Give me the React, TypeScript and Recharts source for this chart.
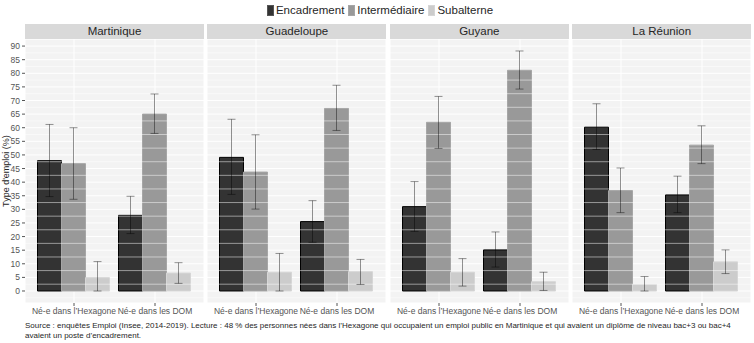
import { Bar, BarChart, CartesianGrid, ErrorBar, ReferenceLine, XAxis, YAxis } from 'recharts';

const FONT = '"Liberation Sans", Arial, Helvetica, sans-serif';

const regions = ['Martinique', 'Guadeloupe', 'Guyane', 'La Réunion'];
const births = ['Né-e dans l’Hexagone', 'Né-e dans les DOM'];

// one entry per (region, birth place): Martinique Hex, Martinique DOM, Guadeloupe Hex, ...
const encadrement = [47.9, 27.8, 49.1, 25.5, 31.0, 15.1, 60.2, 35.3];
const encadrementLow = [34.7, 21.1, 35.5, 17.9, 21.9, 8.8, 52.0, 28.8];
const encadrementHigh = [61.2, 34.8, 63.1, 33.2, 40.2, 21.7, 68.8, 42.2];

const intermediaire = [46.8, 65.0, 43.7, 67.1, 62.0, 81.1, 36.9, 53.6];
const intermediaireLow = [33.7, 57.9, 30.1, 59.0, 52.4, 74.2, 28.8, 46.8];
const intermediaireHigh = [60.0, 72.4, 57.4, 75.6, 71.5, 88.2, 45.2, 60.7];

const subalterne = [4.9, 6.6, 6.9, 7.1, 6.9, 3.4, 2.4, 10.7];
const subalterneLow = [0, 2.8, 0, 2.4, 1.8, 0.2, 0, 6.4];
const subalterneHigh = [10.8, 10.4, 13.8, 11.6, 11.9, 6.9, 5.3, 15.1];

const yTicks = [0, 5, 10, 15, 20, 25, 30, 35, 40, 45, 50, 55, 60, 65, 70, 75, 80, 85, 90];
const yMinorBreaks = [-2.5, 2.5, 7.5, 12.5, 17.5, 22.5, 27.5, 32.5, 37.5, 42.5, 47.5, 52.5, 57.5, 62.5, 67.5, 72.5, 77.5, 82.5, 87.5, 92.5];

const SERIES = [
  { key: 'enc', name: 'Encadrement', fill: '#333333', stroke: '#000000' },
  { key: 'int', name: 'Intermédiaire', fill: '#999999', stroke: '#a6a6a6' },
  { key: 'sub', name: 'Subalterne', fill: '#cccccc', stroke: '#d6d6d6' },
];

const PANEL_LEFT = 25;
const PANEL_W = 179;
const PANEL_STEP = 182.4;
const PLOT_TOP = 39;
const PLOT_H = 264;
const Y_AXIS_W = 25;
const AXIS_TEXT = { fontSize: 8.5, fill: '#555555', fontFamily: FONT };

function buildRows(regionIndex: number) {
  return births.map((birth, b) => {
    const i = regionIndex * 2 + b;
    return {
      birth,
      enc: encadrement[i],
      encErr: [encadrement[i] - encadrementLow[i], encadrementHigh[i] - encadrement[i]],
      int: intermediaire[i],
      intErr: [intermediaire[i] - intermediaireLow[i], intermediaireHigh[i] - intermediaire[i]],
      sub: subalterne[i],
      subErr: [subalterne[i] - subalterneLow[i], subalterneHigh[i] - subalterne[i]],
    };
  });
}

function Panel({ regionIndex }: { regionIndex: number }) {
  const showY = regionIndex === 0;
  const left = PANEL_LEFT + regionIndex * PANEL_STEP;
  return (
    <>
      <div
        style={{
          position: 'absolute',
          left,
          top: 24,
          width: PANEL_W,
          height: 15,
          background: '#d9d9d9',
          color: '#262626',
          fontSize: 11.5,
          lineHeight: '15px',
          textAlign: 'center',
        }}
      >
        {regions[regionIndex]}
      </div>
      <div style={{ position: 'absolute', left: showY ? left - Y_AXIS_W : left, top: PLOT_TOP }}>
        <BarChart
          width={showY ? PANEL_W + Y_AXIS_W : PANEL_W}
          height={PLOT_H + 22}
          data={buildRows(regionIndex)}
          margin={{ top: 0, right: 0, bottom: 0, left: 0 }}
          barGap={0}
          barCategoryGap={4}
        >
          <CartesianGrid fill="#f3f3f3" stroke="#ffffff" strokeWidth={1} />
          {yMinorBreaks.map((v) => (
            <ReferenceLine key={v} y={v} stroke="#ffffff" strokeWidth={0.5} />
          ))}
          <XAxis
            dataKey="birth"
            type="category"
            padding={{ left: 8.5, right: 8.5 }}
            axisLine={false}
            tickLine={{ stroke: '#555555' }}
            tickSize={3}
            interval={0}
            height={22}
            tick={AXIS_TEXT}
          />
          <YAxis
            hide={!showY}
            type="number"
            width={Y_AXIS_W}
            domain={[-4.41, 92.6]}
            allowDataOverflow
            ticks={yTicks}
            interval={0}
            axisLine={false}
            tickLine={{ stroke: '#555555' }}
            tickSize={3}
            tick={AXIS_TEXT}
          />
          {SERIES.map((s) => (
            <Bar
              key={s.key}
              dataKey={s.key}
              name={s.name}
              fill={s.fill}
              stroke={s.stroke}
              strokeWidth={1}
              isAnimationActive={false}
            >
              <ErrorBar dataKey={`${s.key}Err`} width={4} stroke="rgba(0,0,0,0.42)" strokeWidth={1} />
            </Bar>
          ))}
        </BarChart>
      </div>
    </>
  );
}

export default function App() {
  return (
    <div
      style={{
        position: 'absolute',
        left: 0,
        top: 0,
        width: 754,
        height: 343,
        background: '#ffffff',
        fontFamily: FONT,
        overflow: 'hidden',
      }}
    >
      <div
        style={{
          position: 'absolute',
          top: 4,
          left: 0,
          width: 754,
          display: 'flex',
          justifyContent: 'center',
          alignItems: 'center',
          gap: 4,
          fontSize: 11.5,
          color: '#262626',
          paddingLeft: 6,
          boxSizing: 'border-box',
        }}
      >
        {SERIES.map((s) => (
          <span key={s.key} style={{ display: 'flex', alignItems: 'center', gap: 2 }}>
            <span
              style={{
                display: 'inline-block',
                width: 7,
                height: 11,
                background: s.fill,
                border: `1px solid ${s.key === 'enc' ? '#555555' : s.stroke}`,
                boxSizing: 'border-box',
              }}
            />
            {s.name}
          </span>
        ))}
      </div>

      {regions.map((_, i) => (
        <Panel key={i} regionIndex={i} />
      ))}

      <div
        style={{
          position: 'absolute',
          left: 6 - 60,
          top: PLOT_TOP + PLOT_H / 2 - 6,
          width: 120,
          height: 12,
          textAlign: 'center',
          fontSize: 9,
          lineHeight: '12px',
          color: '#262626',
          transform: 'rotate(-90deg)',
        }}
      >
        Type d'emploi (%)
      </div>

      <div
        style={{
          position: 'absolute',
          left: 25,
          top: 321,
          fontSize: 8,
          lineHeight: '9.5px',
          color: '#262626',
          whiteSpace: 'nowrap',
        }}
      >
        Source : enquêtes Emploi (Insee, 2014-2019). Lecture : 48 % des personnes nées dans l’Hexagone qui occupaient un emploi public en Martinique et qui avaient un diplôme de niveau bac+3 ou bac+4
        <br />
        avaient un poste d’encadrement.
      </div>
    </div>
  );
}
